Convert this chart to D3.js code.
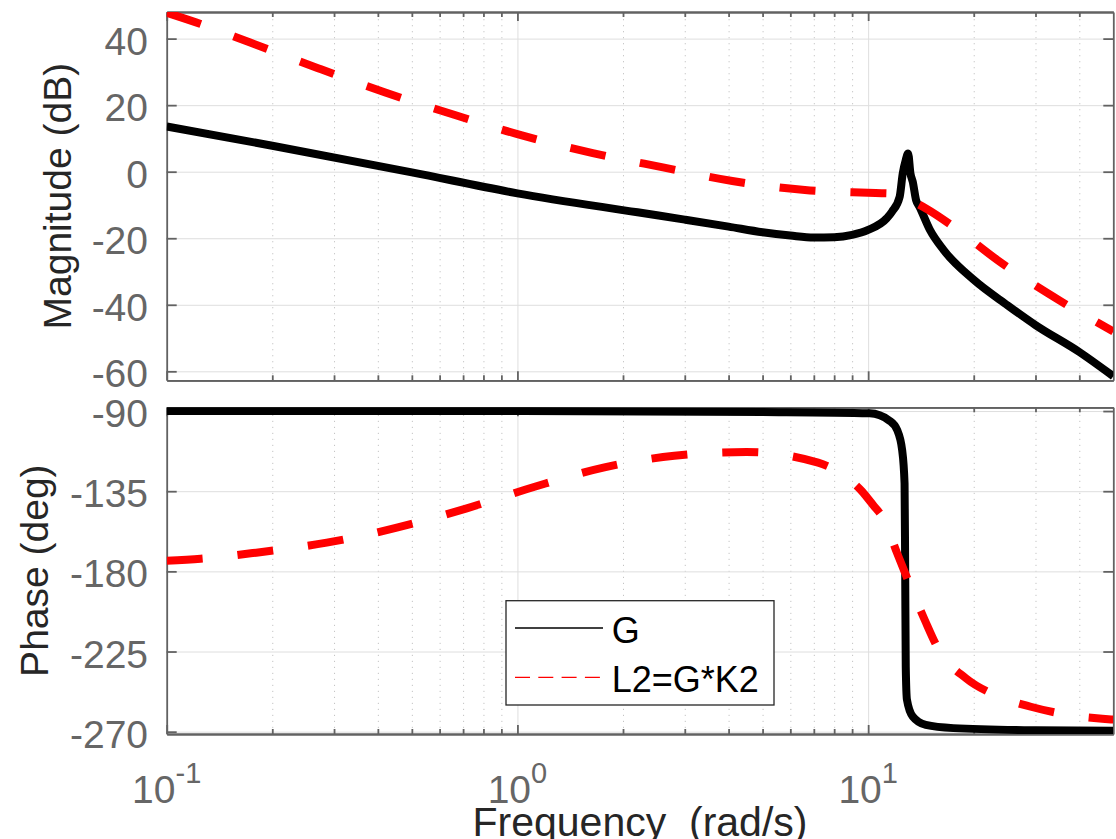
<!DOCTYPE html>
<html>
<head>
<meta charset="utf-8">
<script src="https://cdn.jsdelivr.net/npm/d3@7"></script>
<style>
  body { margin: 0; background: #fff; }
  svg { font-family: "Liberation Sans", Arial, sans-serif; }
</style>
</head>
<body>
<svg id="bode" width="1116" height="839"></svg>
<script>
// ---- values ----
var magFreqG = [0.1, 0.2, 0.5, 1, 2.2, 3, 4, 5, 6, 7, 8, 9, 10, 11.3, 11.7, 12.3, 12.55, 12.8, 13.0, 13.2, 13.4, 13.7, 14, 15, 16.4, 20, 25, 30, 40, 50];
var magDbG = [13.6, 7.8, -0.2, -6.5, -12.2, -14.4, -16.5, -18.2, -19.2, -19.8, -19.7, -19.0, -17.5, -14, -12, -7.5, -0.5, 3.5, 5.5, -0.5, -3, -8.6, -10.5, -17.5, -23.5, -32.5, -40.2, -46.1, -54.2, -61.5];

var magFreqL2 = [0.1, 0.125, 0.173, 0.27, 0.42, 0.66, 1.03, 1.64, 2.6, 4.1, 6.6, 10.5, 11.7, 13, 14.7, 17.5, 23.4, 35, 50];
var magDbL2 = [47.8, 44.4, 38.8, 31.1, 23.8, 17.1, 10.9, 5.6, 1.3, -2.8, -5.5, -6.4, -6.6, -8.3, -11.2, -16.5, -26.6, -38.6, -48];

var phFreqG = [0.1, 1, 5, 10.1, 11.5, 12.1, 12.5, 12.7, 12.75, 12.8, 12.9, 13.4, 14.6, 17.5, 30, 50];
var phDegG = [-90, -90, -90.6, -91.3, -95.4, -100.7, -111.9, -130.6, -177, -233.5, -252, -261.5, -266.2, -268, -269.2, -269.5];

var phFreqL2 = [0.1, 0.125, 0.18, 0.286, 0.453, 0.717, 1.12, 1.77, 2.8, 4.5, 7.2, 8.5, 9.6, 10.3, 11.1, 12.1, 13.1, 14.5, 15.9, 19, 23, 29.1, 36.3, 46.5, 50];
var phDegL2 = [-174, -172.9, -169.5, -163.9, -155.5, -144.6, -132.5, -121.6, -115.1, -113, -119, -126, -135, -142.5, -151, -169.9, -186.7, -207.3, -224.1, -240, -249.4, -256, -260.2, -262.7, -263.2];

var magTicks = [40, 20, 0, -20, -40, -60];
var phaseTicks = [-90, -135, -180, -225, -270];
var freqTicks = [0.1, 1, 10];
var freqTickExp = ["-1", "0", "1"];
var freqMinor = [0.2, 0.3, 0.4, 0.5, 0.6, 0.7, 0.8, 0.9, 2, 3, 4, 5, 6, 7, 8, 9, 20, 30, 40];

var legendNames = ["G", "L2=G*K2"];

// ---- layout ----
var svg = d3.select("#bode");
var left = 166.7, right = 1113.3;
var panels = [
  { y0: 12, y1: 380.3, domain: [-62.7, 48], ticks: magTicks, label: "Magnitude (dB)", labelX: 71,
    series: [[magFreqG, magDbG], [magFreqL2, magDbL2]] },
  { y0: 407.3, y1: 734, domain: [-271.3, -87.9], ticks: phaseTicks, label: "Phase (deg)", labelX: 48,
    series: [[phFreqG, phDegG], [phFreqL2, phDegL2]] }
];

var x = d3.scaleLog().domain([0.1, 50]).range([left, right]);
var axisColor = "#626262";
var styles = [
  { stroke: "#000", dash: null },
  { stroke: "#ff0000", dash: "36,35" }
];

panels.forEach(function (p, i) {
  var y = d3.scaleLinear().domain(p.domain).range([p.y1, p.y0]);
  var h = p.y1 - p.y0;
  var g = svg.append("g");

  // grid
  var minorGrid = g.append("g").attr("transform", "translate(0," + p.y1 + ")")
    .call(d3.axisBottom(x).tickValues(freqMinor).tickSize(-h).tickFormat(""));
  minorGrid.select(".domain").remove();
  minorGrid.selectAll("line").attr("stroke", "#c4c4c4").attr("stroke-dasharray", "1.2,4.8");

  var majorGridX = g.append("g").attr("transform", "translate(0," + p.y1 + ")")
    .call(d3.axisBottom(x).tickValues(freqTicks).tickSize(-h).tickFormat(""));
  majorGridX.select(".domain").remove();
  majorGridX.selectAll("line").attr("stroke", "#dedede");

  var majorGridY = g.append("g").attr("transform", "translate(" + left + ",0)")
    .call(d3.axisLeft(y).tickValues(p.ticks).tickSize(-(right - left)).tickFormat(""));
  majorGridY.select(".domain").remove();
  majorGridY.selectAll("line").attr("stroke", "#dedede");

  // box with inward ticks
  var yl = g.append("g").attr("transform", "translate(" + left + ",0)")
    .call(d3.axisLeft(y).tickValues(p.ticks).tickSize(-10).tickSizeOuter(0).tickPadding(18.7)
      .tickFormat(function (d) { return String(d); }));
  var yr = g.append("g").attr("transform", "translate(" + right + ",0)")
    .call(d3.axisRight(y).tickValues(p.ticks).tickSize(-10).tickSizeOuter(0).tickFormat(""));
  var xb = g.append("g").attr("transform", "translate(0," + p.y1 + ")")
    .call(d3.axisBottom(x).tickValues(freqTicks).tickSize(-9).tickSizeOuter(0).tickFormat(""));
  var xbm = g.append("g").attr("transform", "translate(0," + p.y1 + ")")
    .call(d3.axisBottom(x).tickValues(freqMinor).tickSize(-5).tickSizeOuter(0).tickFormat(""));
  var xt = g.append("g").attr("transform", "translate(0," + p.y0 + ")")
    .call(d3.axisTop(x).tickValues(freqTicks).tickSize(-9).tickSizeOuter(0).tickFormat(""));
  var xtm = g.append("g").attr("transform", "translate(0," + p.y0 + ")")
    .call(d3.axisTop(x).tickValues(freqMinor).tickSize(-5).tickSizeOuter(0).tickFormat(""));
  [yl, yr, xb, xbm, xt, xtm].forEach(function (a) {
    a.selectAll("line").attr("stroke", axisColor).attr("stroke-width", 1.8);
    a.select(".domain").attr("stroke", axisColor).attr("stroke-width", 1.8);
  });
  yl.attr("font-family", null);
  yl.selectAll("text").attr("font-size", 39).attr("fill", "#666").attr("dy", "0.4em");

  // y label
  svg.append("text")
    .attr("transform", "translate(" + p.labelX + "," + ((p.y0 + p.y1) / 2) + ") rotate(-90)")
    .attr("text-anchor", "middle").attr("font-size", 39).attr("fill", "#262626")
    .text(p.label);

  // curves
  svg.append("clipPath").attr("id", "clip" + i).append("rect")
    .attr("x", left).attr("y", p.y0).attr("width", right - left).attr("height", h);
  var line = d3.line().x(function (d) { return x(d[0]); }).y(function (d) { return y(d[1]); })
    .curve(d3.curveMonotoneX);
  p.series.forEach(function (s, k) {
    var pts = s[0].map(function (f, j) { return [f, s[1][j]]; });
    svg.append("path").datum(pts)
      .attr("clip-path", "url(#clip" + i + ")")
      .attr("fill", "none")
      .attr("stroke", styles[k].stroke)
      .attr("stroke-width", 8)
      .attr("stroke-linejoin", "round")
      .attr("stroke-dasharray", styles[k].dash)
      .attr("d", line);
  });
});

// x tick labels (10^n)
var xl = svg.append("g");
freqTicks.forEach(function (f, i) {
  var t = xl.append("text").attr("x", x(f)).attr("y", 803)
    .attr("text-anchor", "middle").attr("font-size", 39).attr("fill", "#666");
  t.append("tspan").text("10");
  t.append("tspan").attr("font-size", 29).attr("dy", -20).text(freqTickExp[i]);
});

svg.append("text").attr("x", (left + right) / 2).attr("y", 836)
  .attr("text-anchor", "middle").attr("font-size", 41).attr("fill", "#262626")
  .style("white-space", "pre")
  .text("Frequency  (rad/s)");

// legend
var lg = svg.append("g");
lg.append("rect").attr("x", 506).attr("y", 600.7).attr("width", 268).attr("height", 104.3)
  .attr("fill", "#fff").attr("stroke", "#262626").attr("stroke-width", 1.3);
legendNames.forEach(function (name, i) {
  var ly = 628 + i * 49.3;
  lg.append("line").attr("x1", 515).attr("x2", 603).attr("y1", ly).attr("y2", ly)
    .attr("stroke", styles[i].stroke).attr("stroke-width", 1.3)
    .attr("stroke-dasharray", i === 1 ? "15,8.3" : null);
  lg.append("text").attr("x", 611.7).attr("y", ly + 15).attr("font-size", 36).attr("fill", "#000")
    .text(name);
});
</script>
</body>
</html>
